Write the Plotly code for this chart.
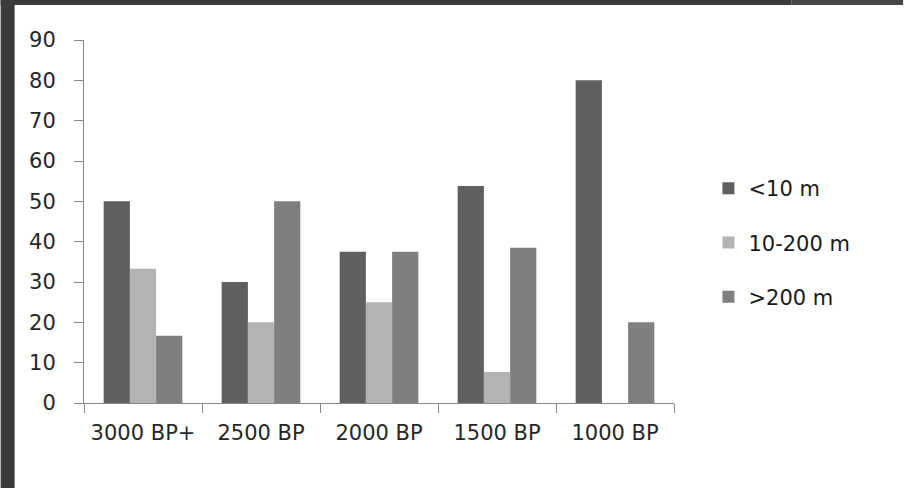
import plotly.graph_objects as go

categories = ["3000 BP+", "2500 BP", "2000 BP", "1500 BP", "1000 BP"]
series_names = ["<10 m", "10-200 m", ">200 m"]
lt10 = [50.0, 30.0, 37.5, 53.8, 80.0]
mid = [33.3, 20.0, 25.0, 7.7, 0.0]
gt200 = [16.7, 50.0, 37.5, 38.5, 20.0]
y_ticks = [0, 10, 20, 30, 40, 50, 60, 70, 80, 90]

colors = ["#5f5f5f", "#b3b3b3", "#7f7f7f"]
FONT = "DejaVu Sans"

W, H = 904, 488
L, R, T, B = 83.5, 229.5, 40, 85
pw, ph = W - L - R, H - T - B

def px_to_paper_x(px):
    return (px - L) / pw

def px_to_paper_y(py):
    return (H - B - py) / ph

fig = go.Figure()
for i, (name, vals) in enumerate(zip(series_names, [lt10, mid, gt200])):
    fig.add_trace(go.Bar(
        x=categories, y=vals, name=name,
        marker=dict(color=colors[i], line=dict(width=0)),
        legendgroup=str(i),
    ))

shapes = [
    dict(type="rect", xref="paper", yref="paper",
         x0=px_to_paper_x(0), x1=px_to_paper_x(14),
         y0=px_to_paper_y(H), y1=px_to_paper_y(0),
         fillcolor="#3b3b3b", line=dict(width=0), layer="above"),
    dict(type="rect", xref="paper", yref="paper",
         x0=px_to_paper_x(0), x1=px_to_paper_x(792),
         y0=px_to_paper_y(5), y1=px_to_paper_y(0),
         fillcolor="#3b3b3b", line=dict(width=0), layer="above"),
    dict(type="rect", xref="paper", yref="paper",
         x0=px_to_paper_x(792), x1=px_to_paper_x(W),
         y0=px_to_paper_y(5), y1=px_to_paper_y(0),
         fillcolor="#464646", line=dict(width=0), layer="above"),
]

fig.update_layout(
    width=W, height=H,
    margin=dict(l=L, r=R, t=T, b=B, pad=0),
    paper_bgcolor="white", plot_bgcolor="white",
    barmode="group", bargap=1.5 / 4.5, bargroupgap=0,
    font=dict(family=FONT, size=21, color="#262626"),
    showlegend=True,
    legend=dict(
        x=px_to_paper_x(709), y=px_to_paper_y(168),
        xanchor="left", yanchor="top",
        font=dict(family=FONT, size=21, color="#1a1a1a"),
        tracegroupgap=24, itemwidth=30,
        bgcolor="rgba(0,0,0,0)",
    ),
    shapes=shapes,
    xaxis=dict(
        type="category", showgrid=False, showline=True,
        linecolor="#868686", linewidth=1,
        ticks="outside", ticklen=9, tickcolor="#868686", tickwidth=1,
        tickson="boundaries", ticklabelstandoff=11,
        tickfont=dict(family=FONT, size=21, color="#262626"),
    ),
    yaxis=dict(
        range=[0, 90], tickvals=y_ticks, showgrid=False, zeroline=False,
        showline=True, linecolor="#868686", linewidth=1,
        ticks="outside", ticklen=9, tickcolor="#868686", tickwidth=1,
        ticklabelstandoff=14,
        tickfont=dict(family=FONT, size=21, color="#262626"),
    ),
)

fig.write_html("out.html")
